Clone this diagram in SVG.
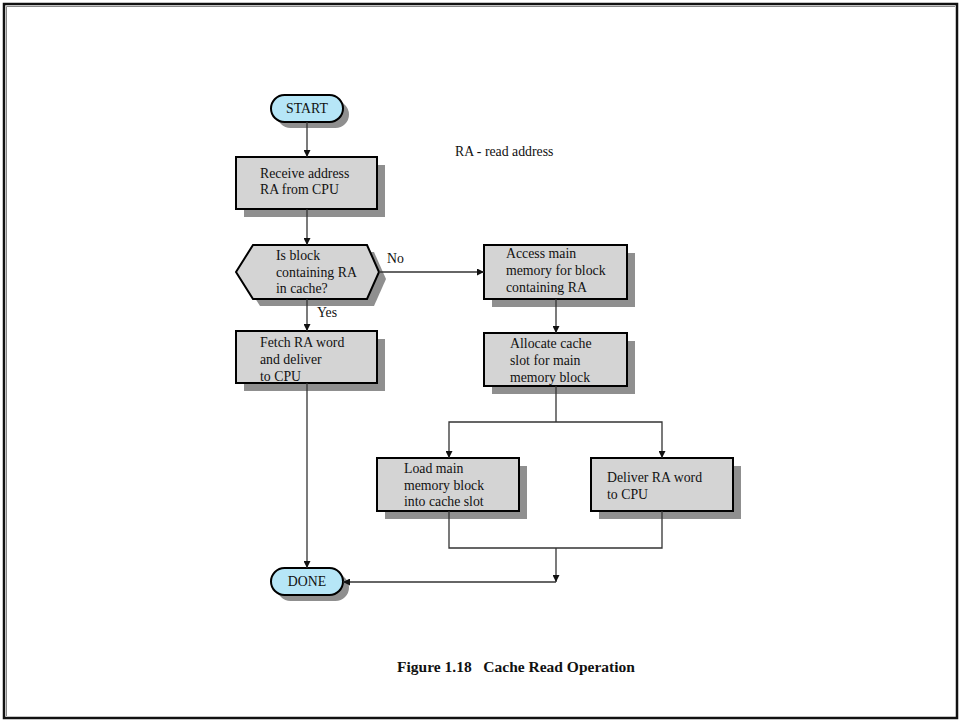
<svg xmlns="http://www.w3.org/2000/svg" width="960" height="721" viewBox="0 0 960 721">
  <style>
    .box { fill: #d4d4d4; stroke: #000; stroke-width: 2; }
    .term { fill: #b6e6f7; stroke: #000; stroke-width: 2; }
    .shadow { fill: #8f8f8f; }
    .lbl { font-family: "Liberation Serif", "Times New Roman", serif; font-size: 13.8px; fill: #111; }
    .title { font-family: "Liberation Serif", "Times New Roman", serif; font-size: 15.5px; font-weight: bold; fill: #111; }
    .conn line, .conn polyline { stroke: #333; stroke-width: 1.3; fill: none; }
    .arr { marker-end: url(#head); }
  </style>
  <defs>
    <marker id="head" viewBox="0 0 10 10" refX="10" refY="5" markerWidth="7" markerHeight="7" markerUnits="userSpaceOnUse" orient="auto">
      <path d="M0,0 L10,5 L0,10 Z" fill="#111"/>
    </marker>
  </defs>

  <rect x="0" y="0" width="960" height="721" fill="#fff"/>
  <!-- page frame -->
  <rect x="4" y="4" width="953" height="714" fill="none" stroke="#111" stroke-width="2.5"/>
  <polyline points="6.5,716 6.5,6.5 955,6.5" fill="none" stroke="#888" stroke-width="1"/>

  <g id="START">
    <rect class="shadow" x="277" y="101" width="72" height="27" rx="13.5"/>
    <rect class="term" x="271" y="95" width="72" height="27" rx="13.5"/>
    <text class="lbl" x="307" y="113" text-anchor="middle">START</text>
  </g>

  <g id="receive">
    <rect class="shadow" x="244" y="165" width="141" height="52"/>
    <rect class="box" x="236" y="157" width="141" height="52"/>
    <text class="lbl" x="260" y="178">Receive address</text>
    <text class="lbl" x="260" y="194">RA from CPU</text>
  </g>

  <g id="decision">
    <polygon class="shadow" points="243,279 260,252 374,252 386,279 374,306 260,306"/>
    <polygon class="box" points="236,272 253,245 367,245 379,272 367,299 253,299"/>
    <text class="lbl" x="276" y="260">Is block</text>
    <text class="lbl" x="276" y="277">containing RA</text>
    <text class="lbl" x="276" y="293">in cache?</text>
  </g>

  <g id="fetch">
    <rect class="shadow" x="244" y="339" width="141" height="52"/>
    <rect class="box" x="236" y="331" width="141" height="52"/>
    <text class="lbl" x="260" y="347">Fetch RA word</text>
    <text class="lbl" x="260" y="364">and deliver</text>
    <text class="lbl" x="260" y="381">to CPU</text>
  </g>

  <g id="access">
    <rect class="shadow" x="492" y="253" width="143" height="54"/>
    <rect class="box" x="484" y="245" width="143" height="54"/>
    <text class="lbl" x="506" y="258">Access main</text>
    <text class="lbl" x="506" y="275">memory for block</text>
    <text class="lbl" x="506" y="292">containing RA</text>
  </g>

  <g id="allocate">
    <rect class="shadow" x="492" y="341" width="143" height="53"/>
    <rect class="box" x="484" y="333" width="143" height="53"/>
    <text class="lbl" x="510" y="348">Allocate cache</text>
    <text class="lbl" x="510" y="365">slot for main</text>
    <text class="lbl" x="510" y="382">memory block</text>
  </g>

  <g id="load">
    <rect class="shadow" x="385" y="466" width="142" height="53"/>
    <rect class="box" x="377" y="458" width="142" height="53"/>
    <text class="lbl" x="404" y="473">Load main</text>
    <text class="lbl" x="404" y="490">memory block</text>
    <text class="lbl" x="404" y="506">into cache slot</text>
  </g>

  <g id="deliver">
    <rect class="shadow" x="599" y="466" width="142" height="53"/>
    <rect class="box" x="591" y="458" width="142" height="53"/>
    <text class="lbl" x="607" y="482">Deliver RA word</text>
    <text class="lbl" x="607" y="499">to CPU</text>
  </g>

  <g id="DONE">
    <rect class="shadow" x="277" y="574" width="72" height="27" rx="13.5"/>
    <rect class="term" x="271" y="568" width="72" height="27" rx="13.5"/>
    <text class="lbl" x="307" y="586" text-anchor="middle">DONE</text>
  </g>

  <g id="connectors" class="conn">
    <line class="arr" x1="307" y1="122" x2="307" y2="157"/>
    <line class="arr" x1="307" y1="209" x2="307" y2="245"/>
    <line class="arr" x1="307" y1="299" x2="307" y2="331"/>
    <line class="arr" x1="379" y1="272" x2="484" y2="272"/>
    <line class="arr" x1="556" y1="299" x2="556" y2="333"/>
    <polyline points="556,386 556,422"/>
    <polyline class="arr" points="556,422 449,422 449,458"/>
    <polyline class="arr" points="556,422 662,422 662,458"/>
    <polyline points="449,511 449,548 662,548 662,511"/>
    <line class="arr" x1="556" y1="548" x2="556" y2="582"/>
    <line class="arr" x1="556" y1="582" x2="343" y2="582"/>
    <line class="arr" x1="307" y1="383" x2="307" y2="568"/>
  </g>

  <text class="lbl" x="387" y="263">No</text>
  <text class="lbl" x="317" y="317">Yes</text>
  <text class="lbl" x="455" y="156">RA - read address</text>
  <text class="title" x="516" y="672" text-anchor="middle" xml:space="preserve">Figure 1.18   Cache Read Operation</text>
</svg>
